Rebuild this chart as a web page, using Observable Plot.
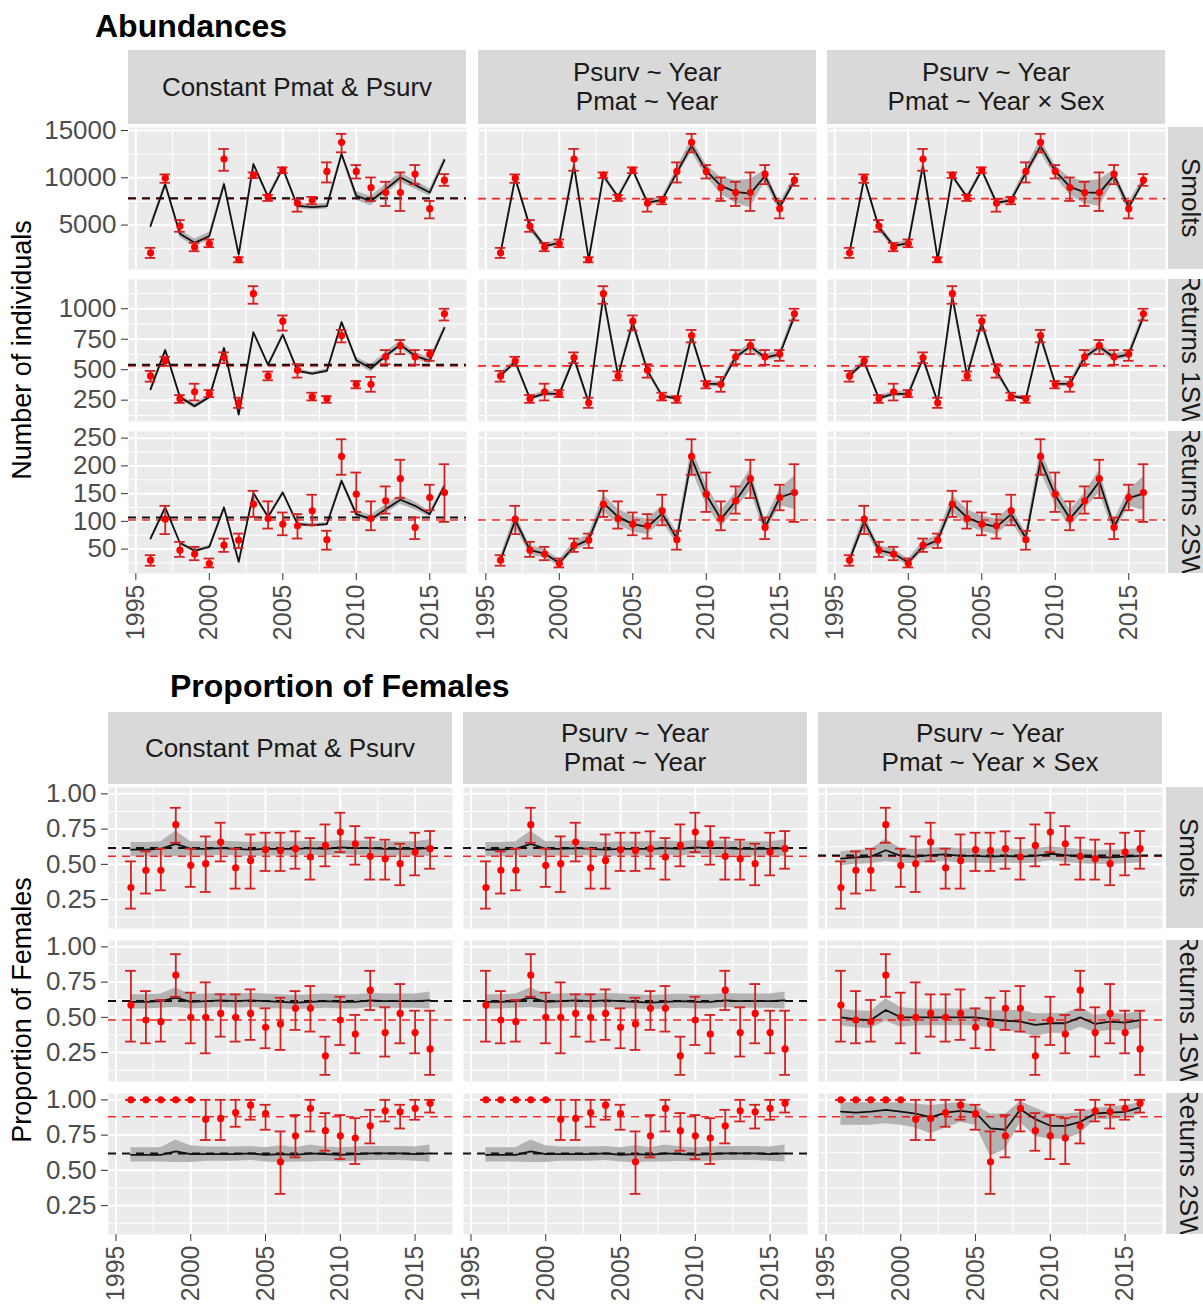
<!DOCTYPE html>
<html><head><meta charset="utf-8">
<script src="https://cdn.jsdelivr.net/npm/d3@7"></script>
<script src="https://cdn.jsdelivr.net/npm/@observablehq/plot@0.6"></script>
<style>
body{margin:0;background:#fff;font-family:'Liberation Sans',Arial,sans-serif;}
#root{position:relative;width:1203px;height:1308px;overflow:hidden;background:#fff;}
.strip{position:absolute;background:#D9D9D9;color:#1A1A1A;font-size:26px;display:flex;align-items:center;justify-content:center;text-align:center;line-height:29px;overflow:hidden;}
.rstrip{position:absolute;background:#D9D9D9;color:#1A1A1A;font-size:26px;display:flex;align-items:center;justify-content:center;overflow:hidden;writing-mode:vertical-rl;white-space:nowrap;}
.title{position:absolute;font-weight:bold;font-size:32px;line-height:1;color:#000;white-space:nowrap;}
.ytitle{position:absolute;font-size:27px;line-height:1;color:#000;white-space:nowrap;transform:translate(-50%,-50%) rotate(-90deg);}
.panel{position:absolute;}
</style></head><body><div id="root"></div><script>
// ---------------- data ----------------
const years = [1996,1997,1998,1999,2000,2001,2002,2003,2004,2005,2006,2007,2008,2009,2010,2011,2012,2013,2014,2015,2016];
const models = ["Constant Pmat & Psurv", "Psurv ~ Year\nPmat ~ Year", "Psurv ~ Year\nPmat ~ Year × Sex"];
const stages = ["Smolts", "Returns 1SW", "Returns 2SW"];
const xMajor = [1995, 2000, 2005, 2010, 2015];
const xMinor = [1997.5, 2002.5, 2007.5, 2012.5];

// Abundances: observed (red) with intervals
const smoltObs = [2057,9965,4894,2660,3050,11986,1348,10284,7979,10816,7305,7624,10674,13759,10674,8972,8440,8440,10390,6738,9752];
const smoltLo  = [1525,9468,4291,2234,2660,10745,1064,9965,7553,10497,6419,7199,9504,12695,9929,7553,7021,6490,9326,5709,9149];
const smoltHi  = [2589,10355,5532,3120,3475,13050,1596,10567,8192,11100,7730,7979,11631,14645,11348,10036,9575,10567,11348,7553,10390];
const sw1Obs = [449,573,261,319,303,600,228,1124,449,898,496,278,261,780,380,380,606,697,606,628,959];
const sw1Lo  = [402,531,228,248,275,554,187,1041,413,821,435,248,228,724,347,319,545,628,540,573,904];
const sw1Hi  = [490,606,292,385,333,642,270,1185,485,945,545,311,283,826,407,441,661,744,661,661,1000];
const sw2Obs = [30,104,48,41,24,57,66,131,105,95,92,119,67,217,149,105,137,177,89,143,152];
const sw2Lo  = [20,77,36,30,17,45,52,108,87,75,69,93,49,184,117,84,114,142,68,120,99];
const sw2Hi  = [39,128,63,54,33,69,78,155,136,116,113,148,83,248,188,136,163,211,107,166,203];

// Abundances: model fits (black line) and ribbon half-widths
const smoltFitC = [4894,9326,4078,3121,3830,9326,1880,11454,7979,10993,7021,6900,7000,12518,8085,7553,8794,10036,9255,8440,11880];
const smoltHwC  = [300,300,400,400,400,300,250,250,250,250,300,300,300,300,450,500,500,500,450,400,300];
const smoltFitY = [2057,9965,4788,2766,3121,11277,1348,10213,7979,10816,7376,7660,10567,13404,10745,9149,8511,8333,10213,6915,9681];
const smoltHwY  = [250,250,400,300,300,600,200,250,250,250,350,300,500,700,600,900,1200,1500,600,500,400];
const smoltFitS = [2100,9950,4750,2800,3100,11300,1380,10200,7950,10800,7350,7650,10550,13350,10700,9050,8450,8400,10250,6900,9650];
const smoltHwS  = [250,250,400,300,300,600,200,250,250,250,350,300,500,700,600,900,1200,1400,600,500,400];
const sw1FitC = [339,661,275,201,275,678,132,807,540,788,490,468,490,890,578,512,614,705,614,573,843];
const sw1HwC  = [15,15,15,20,15,15,15,15,15,15,15,15,15,15,25,30,30,30,30,25,20];
const sw1FitY = [452,565,265,305,300,595,230,1105,452,885,490,285,262,775,385,382,605,690,600,625,940];
const sw1HwY  = [25,25,18,25,18,28,20,45,22,35,28,18,16,30,20,25,30,30,28,28,40];
const sw1FitS = [450,563,265,303,300,593,232,1100,452,882,490,285,263,772,385,383,603,688,600,625,935];
const sw1HwS  = [25,25,18,25,18,28,20,45,22,35,28,18,16,30,20,25,30,30,28,28,40];
const sw2FitC = [69,125,61,47,54,125,27,151,108,152,95,93,95,173,113,104,122,139,128,113,164];
const sw2HwC  = [3,3,3,3,3,3,3,3,3,3,3,3,3,5,6,7,8,8,7,5,4];
const sw2FitY = [30,102,48,42,25,55,67,133,108,95,90,114,69,214,148,104,137,175,89,143,152];
const sw2HwY  = [7,12,8,8,6,9,9,15,14,14,14,14,10,20,18,15,15,20,12,15,30];
const sw2FitS = [30,100,48,42,26,55,66,132,107,96,90,113,70,210,147,105,136,172,90,142,150];
const sw2HwS  = [7,12,8,8,6,9,9,15,14,14,14,14,10,20,18,15,15,20,12,15,30];
// Abundances: horizontal reference lines (red = observed mean, black = constant model)
const abMeanObs = [7800, 531, 102.4];
const abMeanConst = [7830, 540, 107];

// Proportion of females: observed
const pSmoltObs = [0.335,0.458,0.458,0.781,0.493,0.505,0.658,0.476,0.528,0.604,0.599,0.611,0.552,0.634,0.729,0.646,0.557,0.540,0.505,0.587,0.611];
const pSmoltLo  = [0.186,0.293,0.316,0.653,0.340,0.304,0.521,0.328,0.328,0.453,0.453,0.469,0.392,0.486,0.587,0.498,0.392,0.392,0.352,0.422,0.469];
const pSmoltHi  = [0.521,0.592,0.611,0.901,0.611,0.698,0.795,0.611,0.712,0.724,0.724,0.734,0.686,0.783,0.866,0.771,0.689,0.675,0.646,0.724,0.736];
const p1Obs = [0.587,0.481,0.469,0.800,0.500,0.500,0.528,0.500,0.528,0.429,0.453,0.564,0.564,0.227,0.481,0.382,0.693,0.392,0.528,0.392,0.276];
const p1Lo  = [0.328,0.316,0.328,0.646,0.316,0.245,0.363,0.328,0.340,0.281,0.269,0.411,0.399,0.092,0.304,0.245,0.552,0.222,0.316,0.245,0.092];
const p1Hi  = [0.830,0.686,0.623,0.948,0.675,0.748,0.663,0.663,0.698,0.564,0.639,0.686,0.722,0.363,0.646,0.517,0.830,0.571,0.736,0.547,0.547];
const p2Obs = [1,1,1,1,1,0.863,0.868,0.910,0.962,0.903,0.561,0.745,0.939,0.781,0.745,0.729,0.816,0.922,0.915,0.939,0.976];
const p2Lo  = [1,1,1,1,1,0.715,0.715,0.809,0.859,0.788,0.333,0.592,0.776,0.639,0.580,0.545,0.691,0.847,0.797,0.859,0.910];
const p2Hi  = [1,1,1,1,1,1,1,1,1,0.965,0.776,0.892,1,0.906,0.892,0.870,0.929,1,0.965,1,1];
// Proportion of females: model fits
const pSmoltFitC = [0.605,0.605,0.61,0.645,0.61,0.61,0.615,0.61,0.605,0.61,0.61,0.61,0.615,0.61,0.62,0.615,0.615,0.61,0.61,0.61,0.615];
const pSmoltHwC  = [0.05,0.05,0.05,0.09,0.05,0.05,0.05,0.05,0.05,0.05,0.05,0.05,0.05,0.05,0.05,0.05,0.05,0.05,0.05,0.05,0.06];
const pSmoltFitS = [0.54,0.55,0.555,0.60,0.56,0.555,0.565,0.57,0.56,0.56,0.555,0.56,0.555,0.56,0.575,0.565,0.555,0.55,0.55,0.555,0.56];
const pSmoltHwS  = [0.05,0.05,0.05,0.08,0.05,0.05,0.05,0.05,0.05,0.05,0.05,0.05,0.05,0.05,0.05,0.05,0.05,0.05,0.05,0.05,0.05];
const p1FitC = [0.61,0.61,0.615,0.64,0.61,0.615,0.62,0.615,0.62,0.615,0.61,0.605,0.61,0.615,0.61,0.61,0.62,0.615,0.615,0.615,0.62];
const p1HwC  = [0.05,0.05,0.05,0.07,0.05,0.05,0.05,0.05,0.05,0.05,0.05,0.05,0.05,0.05,0.05,0.05,0.05,0.05,0.05,0.05,0.06];
const p1FitS = [0.500,0.486,0.481,0.552,0.500,0.500,0.500,0.500,0.500,0.500,0.486,0.476,0.470,0.446,0.458,0.458,0.500,0.453,0.469,0.462,0.481];
const p1HwS  = [0.06,0.06,0.06,0.08,0.07,0.06,0.06,0.06,0.06,0.06,0.06,0.07,0.08,0.08,0.07,0.07,0.07,0.06,0.06,0.06,0.06];
const p2FitC = [0.61,0.61,0.61,0.635,0.615,0.615,0.615,0.615,0.62,0.61,0.615,0.61,0.62,0.615,0.61,0.615,0.62,0.62,0.62,0.615,0.62];
const p2HwC  = [0.05,0.05,0.05,0.08,0.06,0.05,0.05,0.05,0.05,0.05,0.06,0.05,0.06,0.05,0.05,0.05,0.05,0.05,0.05,0.05,0.06];
const p2FitS = [0.917,0.910,0.917,0.929,0.917,0.903,0.875,0.910,0.922,0.910,0.797,0.788,0.934,0.863,0.816,0.816,0.844,0.903,0.910,0.915,0.946];
const p2LoS  = [0.82,0.82,0.82,0.83,0.82,0.80,0.76,0.80,0.84,0.82,0.60,0.65,0.84,0.74,0.72,0.72,0.76,0.86,0.86,0.87,0.90];
const p2HiS  = [0.98,0.98,0.98,0.98,0.98,0.97,0.96,0.97,0.98,0.96,0.90,0.90,0.99,0.94,0.90,0.90,0.91,0.94,0.95,0.96,0.98];
const pMeanObs = [0.557, 0.481, 0.880];
const pMeanConst = [0.616, 0.616, 0.620];
const pMeanSex = [0.562, null, null];

// ---------------- helpers ----------------
const FONT = "'Liberation Sans', Arial, sans-serif";
const RED = "#FF0000", BAR = "#D42020";
const root = document.getElementById("root");

function obsRows(obs, lo, hi) { return years.map((y, i) => ({year: y, v: obs[i], lo: lo[i], hi: hi[i]})); }
function fitRows(fit, hw, lo, hi) {
  return years.map((y, i) => ({year: y, v: fit[i],
    lo: lo ? lo[i] : fit[i] - hw[i], hi: hi ? hi[i] : fit[i] + hw[i]}));
}

function panel(o) {
  const ml = o.showY ? o.ml : 0;
  const mb = o.showX ? 90 : 0;
  const white = {stroke: "#fff", strokeOpacity: 1};
  const marks = [
    Plot.frame({fill: "#EBEBEB", stroke: "none"}),
    Plot.gridX({ticks: xMinor, ...white, strokeWidth: 1}),
    Plot.gridY({ticks: o.yMinor, ...white, strokeWidth: 1}),
    Plot.gridX({ticks: xMajor, ...white, strokeWidth: 2}),
    Plot.gridY({ticks: o.yMajor, ...white, strokeWidth: 2}),
    Plot.areaY(o.fit, {x: "year", y1: "lo", y2: "hi", fill: "#B3B3B3", fillOpacity: 1}),
    Plot.ruleY([o.meanObs], {stroke: RED, strokeWidth: 1.6, strokeDasharray: "8,6", strokeOpacity: 0.85}),
  ];
  if (o.meanModel != null) marks.push(Plot.ruleY([o.meanModel], {stroke: "#111", strokeWidth: 2, strokeDasharray: "8,6"}));
  marks.push(
    Plot.line(o.fit, {x: "year", y: "v", stroke: "#111", strokeWidth: 1.8}),
    Plot.ruleX(o.obs, {x: "year", y1: "lo", y2: "hi", stroke: BAR, strokeWidth: 1.8}),
    Plot.ruleY(o.obs, {y: "lo", x1: d => d.year - 0.36, x2: d => d.year + 0.36, stroke: BAR, strokeWidth: 1.8}),
    Plot.ruleY(o.obs, {y: "hi", x1: d => d.year - 0.36, x2: d => d.year + 0.36, stroke: BAR, strokeWidth: 1.8}),
    Plot.dot(o.obs, {x: "year", y: "v", r: 3.6, fill: RED, stroke: "none"})
  );
  if (o.showY) marks.push(Plot.axisY({ticks: o.yMajor, tickSize: 7, tickPadding: 5, fontSize: 26, fill: "#4D4D4D", stroke: "#333", label: null, tickFormat: o.yFormat}));
  if (o.showX) marks.push(Plot.axisX({ticks: xMajor, tickSize: 7, tickPadding: 4, tickRotate: -90, fontSize: 25, fill: "#4D4D4D", stroke: "#333", label: null, tickFormat: "d"}));
  const svg = Plot.plot({
    width: o.w + ml, height: o.h + mb,
    marginLeft: ml, marginRight: 0, marginTop: 0, marginBottom: mb,
    x: {domain: [1994.5, 2017.5], axis: o.showX ? undefined : null},
    y: {domain: o.yDomain, axis: o.showY ? undefined : null},
    style: {background: "transparent", fontFamily: FONT, overflow: "visible"},
    marks
  });
  svg.classList.add("panel");
  svg.style.left = (o.x - ml) + "px";
  svg.style.top = o.y + "px";
  root.appendChild(svg);
}

function div(cls, text, css) {
  const d = document.createElement("div");
  d.className = cls;
  d.innerHTML = text.replace(/\n/g, "<br>");
  Object.assign(d.style, css);
  root.appendChild(d);
  return d;
}

// ---------------- Abundances ----------------
{
  const colX = [128, 478, 827], pw = 338;
  const rowY = [127, 279, 431], ph = 142;
  const yDomains = [[300, 15320], [75, 1240], [6, 262]];
  const yMajor = [[5000, 10000, 15000], [250, 500, 750, 1000], [50, 100, 150, 200, 250]];
  const yMinor = [[2500, 7500, 12500], [125, 375, 625, 875, 1125], [25, 75, 125, 175, 225]];
  const obs = [obsRows(smoltObs, smoltLo, smoltHi), obsRows(sw1Obs, sw1Lo, sw1Hi), obsRows(sw2Obs, sw2Lo, sw2Hi)];
  const fits = [
    [fitRows(smoltFitC, smoltHwC), fitRows(smoltFitY, smoltHwY), fitRows(smoltFitS, smoltHwS)],
    [fitRows(sw1FitC, sw1HwC), fitRows(sw1FitY, sw1HwY), fitRows(sw1FitS, sw1HwS)],
    [fitRows(sw2FitC, sw2HwC), fitRows(sw2FitY, sw2HwY), fitRows(sw2FitS, sw2HwS)]
  ];
  div("title", "Abundances", {left: "95px", top: "10px"});
  models.forEach((m, c) => div("strip", m, {left: colX[c] + "px", top: "50px", width: pw + "px", height: "74px"}));
  stages.forEach((s, r) => div("rstrip", s, {left: "1168px", top: rowY[r] + "px", width: "44px", height: ph + "px"}));
  div("ytitle", "Number of individuals", {left: "22px", top: "350px"});
  for (let r = 0; r < 3; r++) for (let c = 0; c < 3; c++) {
    panel({x: colX[c], y: rowY[r], w: pw, h: ph, ml: 128, showY: c === 0, showX: r === 2,
      yDomain: yDomains[r], yMajor: yMajor[r], yMinor: yMinor[r], yFormat: "d",
      obs: obs[r], fit: fits[r][c], meanObs: abMeanObs[r], meanModel: c === 0 ? abMeanConst[r] : null});
  }
}

// ---------------- Proportion of Females ----------------
{
  const colX = [108, 463, 818], pw = 344;
  const rowY = [787, 940, 1093], ph = 141;
  const yDomain = [0.045, 1.045];
  const yMajor = [0.25, 0.5, 0.75, 1.0], yMinor = [0.125, 0.375, 0.625, 0.875];
  const obs = [obsRows(pSmoltObs, pSmoltLo, pSmoltHi), obsRows(p1Obs, p1Lo, p1Hi), obsRows(p2Obs, p2Lo, p2Hi)];
  const fits = [
    [fitRows(pSmoltFitC, pSmoltHwC), fitRows(pSmoltFitC, pSmoltHwC), fitRows(pSmoltFitS, pSmoltHwS)],
    [fitRows(p1FitC, p1HwC), fitRows(p1FitC, p1HwC), fitRows(p1FitS, p1HwS)],
    [fitRows(p2FitC, p2HwC), fitRows(p2FitC, p2HwC), fitRows(p2FitS, null, p2LoS, p2HiS)]
  ];
  div("title", "Proportion of Females", {left: "170px", top: "670px"});
  models.forEach((m, c) => div("strip", m, {left: colX[c] + "px", top: "712px", width: pw + "px", height: "72px"}));
  stages.forEach((s, r) => div("rstrip", s, {left: "1166px", top: rowY[r] + "px", width: "44px", height: ph + "px"}));
  div("ytitle", "Proportion of Females", {left: "22px", top: "1010px"});
  for (let r = 0; r < 3; r++) for (let c = 0; c < 3; c++) {
    panel({x: colX[c], y: rowY[r], w: pw, h: ph, ml: 108, showY: c === 0, showX: r === 2,
      yDomain, yMajor, yMinor, yFormat: ".2f",
      obs: obs[r], fit: fits[r][c], meanObs: pMeanObs[r],
      meanModel: c < 2 ? pMeanConst[r] : pMeanSex[r]});
  }
}
</script></body></html>
